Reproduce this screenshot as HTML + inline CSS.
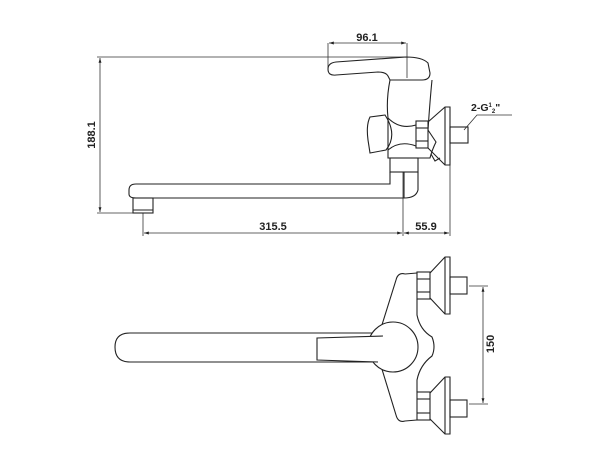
<!DOCTYPE html>
<html><head><meta charset="utf-8"><style>
html,body{margin:0;padding:0;background:#fff;}
svg{display:block;}
text{font-family:"Liberation Sans",Arial,sans-serif;font-weight:bold;fill:#222;}
</style></head><body>
<svg width="600" height="471" viewBox="0 0 600 471" xmlns="http://www.w3.org/2000/svg">
<defs>
<marker id="a" viewBox="0 0 10 10" refX="10" refY="5" markerWidth="6" markerHeight="6" orient="auto-start-reverse"><path d="M0,2 L10,5 L0,8 z" fill="#222"/></marker>
</defs>
<g fill="none" stroke="#333" stroke-width="0.8">
<line x1="328" y1="43" x2="328" y2="70"/>
<line x1="407" y1="43" x2="407" y2="78"/>
<line x1="329" y1="43" x2="406" y2="43" marker-start="url(#a)" marker-end="url(#a)"/>
<line x1="97" y1="57" x2="407" y2="57"/>
<line x1="97" y1="213" x2="135" y2="213"/>
<line x1="100" y1="58" x2="100" y2="212" marker-start="url(#a)" marker-end="url(#a)"/>
<line x1="143" y1="213" x2="143" y2="236"/>
<line x1="403" y1="172" x2="403" y2="236"/>
<line x1="450" y1="165" x2="450" y2="236"/>
<line x1="144" y1="233" x2="402" y2="233" marker-start="url(#a)" marker-end="url(#a)"/>
<line x1="404" y1="233" x2="449" y2="233" marker-start="url(#a)" marker-end="url(#a)"/>
<polyline points="464,130 477,115 512,115"/>
</g>
<g fill="none" stroke="#222" stroke-width="1.1">
<path d="M328,69 Q328,63 336,62 L406,57 Q422,57 428,63 L430,73 Q430,80 422,80 L390,80 L388,76 Q386,72 378,72 L336,75 Q328,76 328,69 Z"/>
<path d="M390,80 Q386,100 388,118 L388,158 L430,158 Q432,150 436,142 L428,130 Q430,100 432,80"/>
<path d="M385,115 L370,117 Q366,125 368,140 L370,153 L386,150 Q398,135 385,115 Z"/>
<path d="M388,118 Q400,130 416,125"/>
<path d="M388,150 Q400,140 416,146"/>
<rect x="416" y="121" width="12" height="27"/>
<line x1="416" y1="128" x2="428" y2="128"/>
<line x1="416" y1="141" x2="428" y2="141"/>
<path d="M428,122 L445,107 L450,107 L450,165 L445,165 L428,148"/>
<line x1="445" y1="107" x2="445" y2="165"/>
<path d="M431,154 l4,7 l5,-3"/>
<rect x="450" y="127" width="18" height="16"/>
<rect x="390" y="158" width="28" height="14"/>
<path d="M390,172 L390,184 L136,184 Q129,184 129,190 L129,194 Q129,198 136,198 L404,198 L404,172"/>
<path d="M404,198 Q416,198 418,190 L418,172"/>
<rect x="133" y="198" width="20" height="15"/>
<line x1="133" y1="210" x2="153" y2="210"/>
</g>
<text x="367" y="41" font-size="11" text-anchor="middle">96.1</text>
<text x="471" y="111" font-size="10.5">2-G<tspan font-size="6" dy="-4">1</tspan><tspan font-size="6" dy="6">2</tspan><tspan dy="-2">"</tspan></text>
<text x="273" y="230" font-size="11" text-anchor="middle">315.5</text>
<text x="426" y="230" font-size="11" text-anchor="middle">55.9</text>
<text transform="translate(95,135) rotate(-90)" font-size="11" text-anchor="middle">188.1</text>

<g fill="none" stroke="#222" stroke-width="1.1">
<path d="M380,333 L130,333 Q115,333 115,347 Q115,362 130,362 L380,362"/>
<path d="M405,274 Q398,272 396,280 L381,328"/>
<path d="M381,366 L396,415 Q398,423 405,421 L417,420"/>
<path d="M405,274 L417,273"/>
<path d="M417,299 L417,315 Q420,330 432,337 Q436,347 432,356 Q420,365 417,380 L417,392"/>
<circle cx="393" cy="347" r="25" fill="#fff"/>
<path d="M383,336 L317,338 L317,360 L378,362" fill="#fff"/>
<rect x="417" y="272" width="13" height="27"/>
<line x1="417" y1="279" x2="430" y2="279"/>
<line x1="417" y1="292" x2="430" y2="292"/>
<path d="M430,273 L445,257 L450,257 L450,314 L445,314 L430,298"/>
<line x1="445" y1="257" x2="445" y2="314"/>
<rect x="450" y="277" width="17" height="17"/>
<rect x="417" y="392" width="13" height="28"/>
<line x1="417" y1="399" x2="430" y2="399"/>
<line x1="417" y1="413" x2="430" y2="413"/>
<path d="M430,393 L445,377 L450,377 L450,434 L445,434 L430,419"/>
<line x1="445" y1="377" x2="445" y2="434"/>
<rect x="450" y="400" width="17" height="17"/>
</g>
<g fill="none" stroke="#333" stroke-width="0.8">
<line x1="469" y1="286" x2="488" y2="286"/>
<line x1="469" y1="404" x2="488" y2="404"/>
<line x1="483" y1="287" x2="483" y2="403" marker-start="url(#a)" marker-end="url(#a)"/>
</g>
<text transform="translate(494,344) rotate(-90)" font-size="11" text-anchor="middle">150</text>
</svg>
</body></html>
